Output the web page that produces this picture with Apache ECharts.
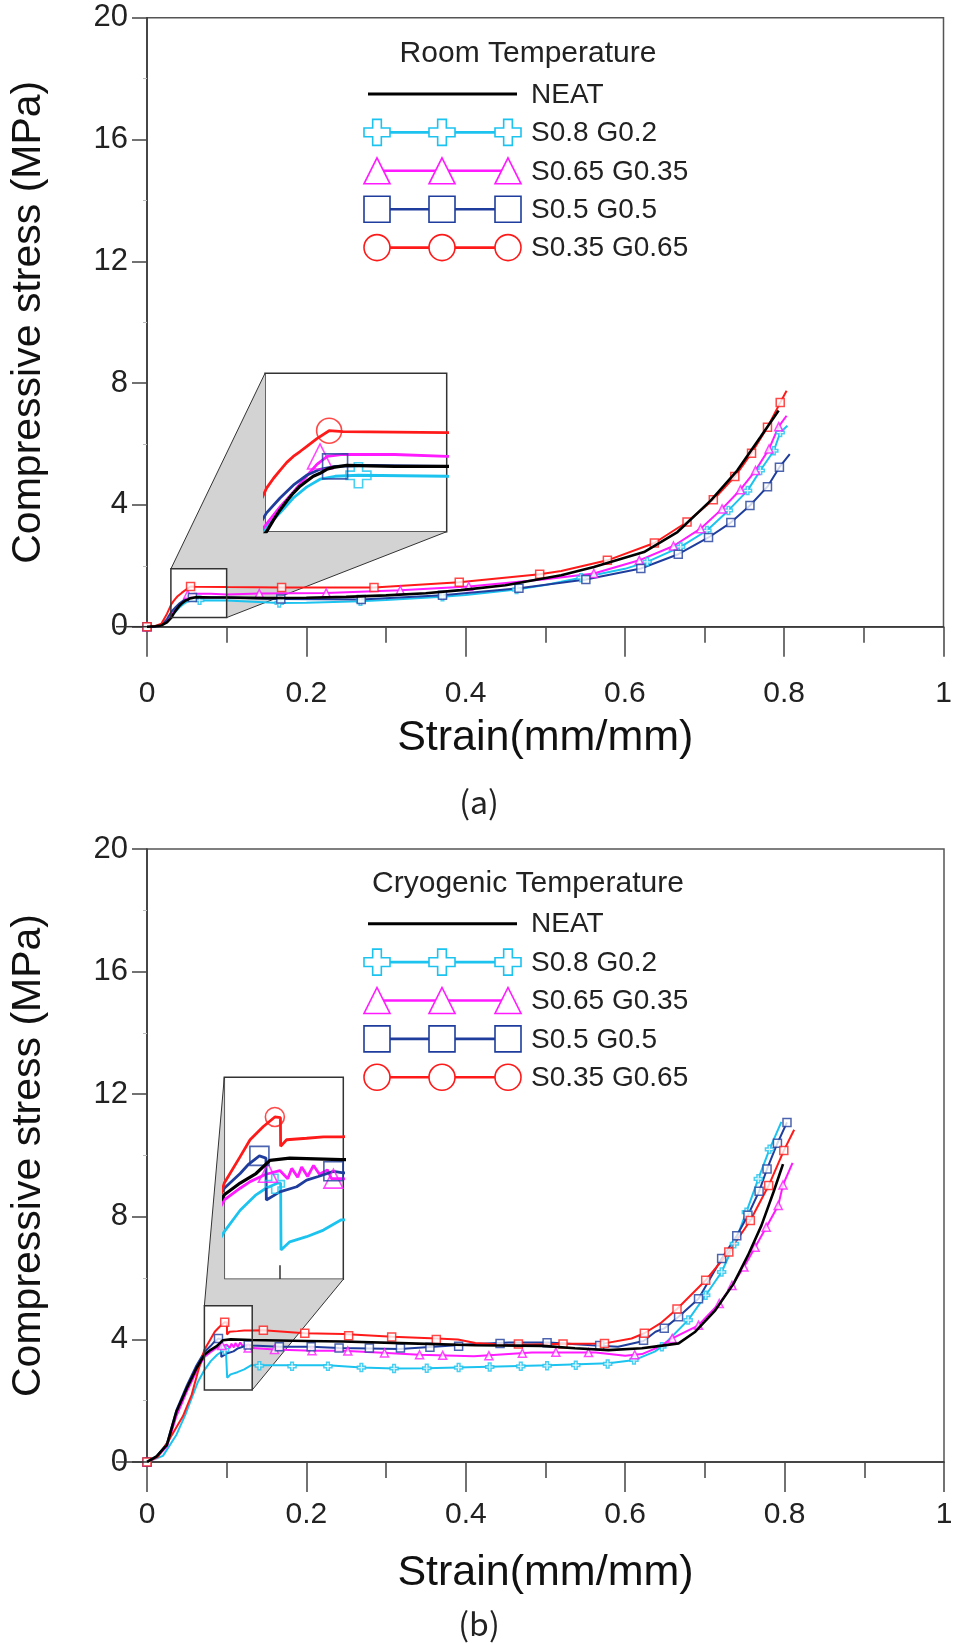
<!DOCTYPE html>
<html>
<head>
<meta charset="utf-8">
<script src="https://cdn.jsdelivr.net/npm/echarts@6/dist/echarts.min.js"></script>
<style>
html, body { margin: 0; padding: 0; background: #fff; }
#main { width: 958px; height: 1643px; }
</style>
</head>
<body>
<div id="main"></div>
<script>
// tick labels
var xTickLabels = ['0', '0.2', '0.4', '0.6', '0.8', '1'];
var yTickLabels = ['0', '4', '8', '12', '16', '20'];
var seriesNames = ['NEAT', 'S0.8 G0.2', 'S0.65 G0.35', 'S0.5 G0.5', 'S0.35 G0.65'];
var panelTitles = ['Room Temperature', 'Cryogenic Temperature'];
var captions = ['(a)', '(b)'];

// zoomed windows (strain, stress)
var roomZoomX = [0.03, 0.1];
var roomZoomY = [0.3, 1.9];
var cryoZoomX = [0.072, 0.132];
var cryoZoomY = [2.35, 5.1];

// ---- room temperature ----
var roomNeat = [[0,0],[0.01,0.01],[0.018,0.04],[0.025,0.14],[0.0306,0.3],[0.0333,0.42],[0.0358,0.52],[0.0384,0.61],[0.0409,0.69],[0.0435,0.76],[0.046,0.81],[0.0486,0.86],[0.0512,0.89],[0.0538,0.93],[0.0563,0.95],[0.0615,0.97],[0.08,0.96],[0.1,0.96],[0.15,0.94],[0.2,0.95],[0.25,0.98],[0.3,1.03],[0.35,1.1],[0.394,1.2],[0.45,1.36],[0.52,1.69],[0.561,1.96],[0.624,2.45],[0.666,3.11],[0.708,4.15],[0.741,5.13],[0.77,6.22],[0.793,7.1]];
var roomS08 = [[0,0],[0.01,0.01],[0.018,0.04],[0.025,0.17],[0.0306,0.35],[0.0358,0.49],[0.0409,0.64],[0.046,0.75],[0.0512,0.83],[0.057,0.86],[0.066,0.87],[0.1,0.86],[0.166,0.78],[0.2,0.79],[0.268,0.84],[0.3,0.88],[0.371,0.98],[0.4,1.04],[0.464,1.22],[0.5,1.37],[0.545,1.61],[0.6,1.9],[0.628,2.13],[0.67,2.62],[0.703,3.16],[0.73,3.82],[0.754,4.47],[0.77,5.13],[0.787,5.78],[0.795,6.38],[0.804,6.6]];
var roomS065 = [[0,0],[0.01,0.01],[0.018,0.04],[0.025,0.18],[0.0306,0.38],[0.0358,0.55],[0.0409,0.7],[0.046,0.86],[0.05,0.98],[0.054,1.06],[0.06,1.08],[0.08,1.08],[0.1,1.06],[0.141,1.09],[0.225,1.11],[0.318,1.2],[0.404,1.32],[0.5,1.56],[0.561,1.75],[0.618,2.18],[0.661,2.65],[0.695,3.22],[0.722,3.87],[0.745,4.5],[0.764,5.13],[0.781,5.84],[0.793,6.57],[0.803,6.93]];
var roomS05 = [[0,0],[0.01,0.01],[0.018,0.05],[0.025,0.25],[0.0306,0.49],[0.0358,0.64],[0.0409,0.77],[0.046,0.87],[0.0512,0.93],[0.057,0.96],[0.07,0.97],[0.1,0.96],[0.168,0.91],[0.269,0.89],[0.371,1.03],[0.467,1.26],[0.52,1.44],[0.551,1.55],[0.62,1.91],[0.667,2.38],[0.705,2.93],[0.733,3.42],[0.757,3.98],[0.779,4.6],[0.794,5.24],[0.807,5.67]];
var roomS035 = [[0,0],[0.01,0.02],[0.018,0.1],[0.025,0.42],[0.0306,0.74],[0.0333,0.84],[0.0358,0.92],[0.0384,1.0],[0.0409,1.06],[0.0435,1.11],[0.046,1.16],[0.05,1.24],[0.0547,1.32],[0.06,1.31],[0.1,1.3],[0.169,1.29],[0.285,1.29],[0.392,1.46],[0.493,1.72],[0.52,1.83],[0.578,2.18],[0.637,2.75],[0.678,3.44],[0.711,4.17],[0.738,4.93],[0.759,5.7],[0.779,6.55],[0.795,7.36],[0.803,7.75]];

var roomS08Marks = [[0,0],[0.066,0.87],[0.166,0.78],[0.268,0.84],[0.371,0.98],[0.464,1.22],[0.545,1.61],[0.628,2.13],[0.67,2.62],[0.703,3.16],[0.73,3.82],[0.754,4.47],[0.77,5.13],[0.787,5.78],[0.795,6.38]];
var roomS065Marks = [[0,0],[0.0512,1.06],[0.141,1.09],[0.225,1.11],[0.318,1.2],[0.404,1.32],[0.561,1.75],[0.618,2.18],[0.661,2.65],[0.695,3.22],[0.722,3.87],[0.745,4.5],[0.764,5.13],[0.781,5.84],[0.793,6.57]];
var roomS05Marks = [[0,0],[0.057,0.96],[0.168,0.91],[0.269,0.89],[0.371,1.03],[0.467,1.26],[0.551,1.55],[0.62,1.91],[0.667,2.38],[0.705,2.93],[0.733,3.42],[0.757,3.98],[0.779,4.6],[0.794,5.24]];
var roomS035Marks = [[0,0],[0.0547,1.32],[0.169,1.29],[0.285,1.29],[0.392,1.46],[0.493,1.72],[0.578,2.18],[0.637,2.75],[0.678,3.44],[0.711,4.17],[0.738,4.93],[0.759,5.7],[0.779,6.55],[0.795,7.36]];

// ---- cryogenic temperature ----
var cryoNeat = [[0,0],[0.012,0.18],[0.025,0.56],[0.037,1.65],[0.05,2.41],[0.062,3.05],[0.072,3.5],[0.08,3.66],[0.088,3.79],[0.095,3.97],[0.105,4.0],[0.131,3.98],[0.2,3.95],[0.246,3.93],[0.329,3.87],[0.412,3.81],[0.496,3.79],[0.537,3.71],[0.579,3.65],[0.621,3.71],[0.644,3.79],[0.667,3.87],[0.688,4.25],[0.713,4.95],[0.736,5.82],[0.754,6.74],[0.771,7.72],[0.786,8.8],[0.798,9.72]];
var cryoS08 = [[0,0],[0.02,0.2],[0.037,0.89],[0.048,1.54],[0.064,2.62],[0.072,3.0],[0.08,3.29],[0.088,3.5],[0.093,3.59],[0.099,3.66],[0.1004,3.66],[0.1006,2.75],[0.105,2.86],[0.1135,2.93],[0.122,3.02],[0.131,3.16],[0.139,3.16],[0.166,3.16],[0.227,3.16],[0.269,3.08],[0.31,3.05],[0.35,3.06],[0.429,3.11],[0.504,3.16],[0.579,3.22],[0.612,3.33],[0.637,3.6],[0.646,3.76],[0.679,4.63],[0.701,5.44],[0.721,6.2],[0.737,7.12],[0.752,8.15],[0.767,9.24],[0.781,10.2],[0.796,11.1]];
var cryoS065 = [[0,0],[0.012,0.15],[0.025,0.5],[0.037,1.5],[0.05,2.3],[0.062,2.95],[0.072,3.43],[0.08,3.59],[0.085,3.68],[0.093,3.78],[0.1,3.83],[0.104,3.72],[0.106,3.86],[0.109,3.74],[0.111,3.88],[0.114,3.75],[0.117,3.9],[0.12,3.78],[0.124,3.84],[0.126,3.72],[0.132,3.72],[0.16,3.67],[0.207,3.63],[0.246,3.63],[0.289,3.57],[0.342,3.5],[0.41,3.45],[0.483,3.57],[0.563,3.57],[0.6,3.47],[0.621,3.52],[0.642,3.75],[0.659,4.03],[0.692,4.46],[0.718,5.17],[0.734,5.76],[0.749,6.36],[0.763,7.01],[0.777,7.66],[0.792,8.37],[0.798,9.04],[0.81,9.76]];
var cryoS05 = [[0,0],[0.012,0.18],[0.025,0.6],[0.037,1.7],[0.05,2.5],[0.062,3.15],[0.072,3.59],[0.08,3.79],[0.084,3.91],[0.0897,4.03],[0.093,4.0],[0.0932,3.43],[0.1,3.54],[0.1085,3.61],[0.1135,3.7],[0.1194,3.75],[0.127,3.82],[0.132,3.8],[0.166,3.76],[0.206,3.76],[0.241,3.72],[0.317,3.69],[0.412,3.85],[0.454,3.9],[0.504,3.9],[0.558,3.81],[0.591,3.76],[0.623,3.95],[0.638,4.25],[0.649,4.36],[0.667,4.74],[0.692,5.33],[0.721,6.64],[0.74,7.38],[0.754,8.05],[0.768,8.83],[0.778,9.56],[0.791,10.4],[0.803,11.08]];
var cryoS035 = [[0,0],[0.014,0.18],[0.029,0.78],[0.045,1.49],[0.056,2.19],[0.064,2.95],[0.072,3.66],[0.08,4.02],[0.085,4.25],[0.0917,4.43],[0.0975,4.56],[0.1003,4.55],[0.1004,4.16],[0.1034,4.25],[0.1135,4.27],[0.122,4.29],[0.131,4.29],[0.146,4.3],[0.198,4.2],[0.246,4.18],[0.308,4.09],[0.364,4.03],[0.39,4.0],[0.412,3.88],[0.454,3.82],[0.529,3.86],[0.574,3.87],[0.608,4.03],[0.624,4.2],[0.644,4.52],[0.665,4.99],[0.701,5.93],[0.73,6.85],[0.757,7.88],[0.78,9.02],[0.799,10.16],[0.812,10.84]];

var cryoS08Marks = [[0,0],[0.0975,3.65],[0.141,3.14],[0.182,3.12],[0.227,3.12],[0.269,3.08],[0.31,3.05],[0.351,3.06],[0.391,3.08],[0.43,3.1],[0.469,3.12],[0.502,3.14],[0.538,3.16],[0.578,3.2],[0.611,3.33],[0.646,3.76],[0.679,4.63],[0.701,5.44],[0.721,6.2],[0.737,7.12],[0.752,8.15],[0.767,9.24],[0.781,10.2]];
var cryoS065Marks = [[0,0],[0.094,3.8],[0.127,3.72],[0.16,3.67],[0.207,3.63],[0.252,3.62],[0.298,3.56],[0.342,3.5],[0.371,3.48],[0.429,3.47],[0.471,3.55],[0.513,3.58],[0.554,3.57],[0.612,3.5],[0.659,4.03],[0.692,4.46],[0.718,5.17],[0.734,5.76],[0.749,6.36],[0.763,7.01],[0.777,7.66],[0.792,8.37],[0.798,9.04]];
var cryoS05Marks = [[0,0],[0.0897,4.03],[0.127,3.82],[0.166,3.76],[0.206,3.76],[0.241,3.72],[0.279,3.72],[0.318,3.72],[0.355,3.74],[0.391,3.78],[0.443,3.87],[0.502,3.89],[0.568,3.8],[0.623,3.97],[0.649,4.36],[0.667,4.74],[0.692,5.33],[0.721,6.64],[0.74,7.38],[0.754,8.05],[0.768,8.83],[0.778,9.56],[0.791,10.4],[0.803,11.08]];
var cryoS035Marks = [[0,0],[0.0975,4.56],[0.146,4.3],[0.198,4.2],[0.253,4.12],[0.307,4.08],[0.363,4.0],[0.466,3.85],[0.522,3.85],[0.574,3.87],[0.624,4.2],[0.665,4.99],[0.701,5.93],[0.73,6.85],[0.757,7.88],[0.78,9.02],[0.799,10.16]];

var colors = ['#000000', '#1cc3ef', '#ff1aff', '#1f3d9c', '#ff1a1a'];
var crossPath = 'path://M-1,-3L1,-3L1,-1L3,-1L3,1L1,1L1,3L-1,3L-1,1L-3,1L-3,-1L-1,-1Z';
var mainSymbols = ['none', crossPath, 'triangle', 'rect', 'rect'];
var insetSymbols = ['none', crossPath, 'triangle', 'rect', 'circle'];
var font = "'Liberation Sans', Arial, sans-serif";

var panels = [
    { lines: [roomNeat, roomS08, roomS065, roomS05, roomS035],
      marks: [[], roomS08Marks, roomS065Marks, roomS05Marks, roomS035Marks],
      zx: roomZoomX, zy: roomZoomY, insetSize: 25, labelMargin: 52,
      legendTop: 94, titleTop: 54 },
    { lines: [cryoNeat, cryoS08, cryoS065, cryoS05, cryoS035],
      marks: [[], cryoS08Marks, cryoS065Marks, cryoS05Marks, cryoS035Marks],
      zx: cryoZoomX, zy: cryoZoomY, insetSize: 19, labelMargin: 38,
      legendTop: 923.7, titleTop: 884 }
];

var chart = echarts.init(document.getElementById('main'));

var grids = [
    { left: 146.5, top: 17.8, width: 797, height: 608.9, show: true, borderColor: '#555', borderWidth: 1.5 },
    { left: 265, top: 373.3, width: 181.7, height: 158.4, show: true, borderColor: '#333', borderWidth: 1.5, backgroundColor: '#fff' },
    { left: 144, top: 849, width: 800, height: 613, show: true, borderColor: '#555', borderWidth: 1.5 },
    { left: 224.3, top: 1077.3, width: 119, height: 202, show: true, borderColor: '#333', borderWidth: 1.5, backgroundColor: '#fff' }
];

var xAxes = [], yAxes = [], series = [];

panels.forEach(function (p, k) {
    var gMain = k * 2, gIn = k * 2 + 1;
    xAxes.push({
        gridIndex: gMain, type: 'value', min: 0, max: 1, interval: 0.2,
        name: 'Strain(mm/mm)', nameLocation: 'middle', nameGap: 90,
        nameTextStyle: { fontSize: 43, color: '#111', fontFamily: font },
        axisLine: { show: true, lineStyle: { color: '#333', width: 1.5 } },
        axisTick: { show: true, length: 30, lineStyle: { color: '#444', width: 1.5 } },
        minorTick: { show: true, splitNumber: 2, length: 16, lineStyle: { color: '#444', width: 1.5 } },
        axisLabel: { margin: p.labelMargin, fontSize: 30, color: '#222', fontFamily: font,
            formatter: function (v) { return xTickLabels[Math.round(v / 0.2)]; } },
        splitLine: { show: false }
    });
    yAxes.push({
        gridIndex: gMain, type: 'value', min: 0, max: 20, interval: 4,
        name: 'Compressive stress (MPa)', nameLocation: 'middle', nameGap: 98,
        nameTextStyle: { fontSize: 41, color: '#111', fontFamily: font },
        axisLine: { show: true, lineStyle: { color: '#333', width: 1.5 } },
        axisTick: { show: true, length: 15, lineStyle: { color: '#444', width: 1.5 } },
        minorTick: { show: true, splitNumber: 2, length: 4, lineStyle: { color: '#bbb', width: 1 } },
        axisLabel: { margin: 19, fontSize: 31, color: '#222', fontFamily: font,
            formatter: function (v) { return yTickLabels[Math.round(v / 4)]; } },
        splitLine: { show: false }
    });
    xAxes.push({
        gridIndex: gIn, type: 'value', min: p.zx[0], max: p.zx[1],
        axisLine: { show: false },
        axisTick: k == 1 ? { show: true, inside: true, length: 14, customValues: [0.1], lineStyle: { color: '#333', width: 1.5 } } : { show: false },
        axisLabel: { show: false }, splitLine: { show: false }
    });
    yAxes.push({
        gridIndex: gIn, type: 'value', min: p.zy[0], max: p.zy[1],
        axisLine: { show: false }, axisTick: { show: false },
        axisLabel: { show: false }, splitLine: { show: false }
    });

    var order = [1, 2, 3, 4, 0];
    order.forEach(function (i) {
        series.push({
            name: seriesNames[i], type: 'line', xAxisIndex: gMain, yAxisIndex: gMain,
            data: p.lines[i], showSymbol: false, clip: true, z: i == 0 ? 4 : 2,
            lineStyle: { color: colors[i], width: i == 0 ? 2.6 : 2 }
        });
        series.push({
            name: seriesNames[i], type: 'line', xAxisIndex: gIn, yAxisIndex: gIn,
            data: p.lines[i], showSymbol: false, clip: true, z: i == 0 ? 4 : 2,
            lineStyle: { color: colors[i], width: i == 0 ? 3.2 : 2.8 }
        });
        if (i > 0) {
            series.push({
                type: 'scatter', xAxisIndex: gMain, yAxisIndex: gMain, data: p.marks[i],
                symbol: mainSymbols[i], symbolSize: 8, z: 3,
                itemStyle: { color: '#fff', borderColor: colors[i], borderWidth: 1.5 }
            });
            series.push({
                type: 'scatter', xAxisIndex: gIn, yAxisIndex: gIn, data: p.marks[i], clip: true,
                symbol: insetSymbols[i], symbolSize: p.insetSize, z: 3,
                itemStyle: { color: 'rgba(255,255,255,0)', borderColor: colors[i], borderWidth: 1.6 }
            });
        }
    });
});

chart.setOption({
    animation: false,
    backgroundColor: '#fff',
    grid: grids,
    xAxis: xAxes,
    yAxis: yAxes,
    series: series
});

// legend marker drawn as graphic
function legendMarker(kind, cx, cy, s, color) {
    var h = s / 2, a = s / 6;
    var style = { fill: '#fff', stroke: color, lineWidth: 1.6 };
    if (kind == 'circle') return { type: 'circle', shape: { cx: cx, cy: cy, r: h }, style: style, z: 20 };
    if (kind == 'rect') return { type: 'rect', shape: { x: cx - h, y: cy - h, width: s, height: s }, style: style, z: 20 };
    if (kind == 'triangle') return { type: 'polygon', shape: { points: [[cx, cy - h], [cx + h, cy + h], [cx - h, cy + h]] }, style: style, z: 20 };
    return { type: 'polygon', shape: { points: [[cx - a, cy - h], [cx + a, cy - h], [cx + a, cy - a], [cx + h, cy - a], [cx + h, cy + a], [cx + a, cy + a], [cx + a, cy + h], [cx - a, cy + h], [cx - a, cy + a], [cx - h, cy + a], [cx - h, cy - a], [cx - a, cy - a]] }, style: style, z: 20 };
}

var legendKinds = ['none', 'cross', 'triangle', 'rect', 'circle'];
var graphics = [];
panels.forEach(function (p, k) {
    graphics.push({ type: 'text', x: 528, y: p.titleTop, z: 20,
        style: { text: panelTitles[k], font: '30px ' + font, fill: '#222', textAlign: 'center', textVerticalAlign: 'middle' } });
    for (var i = 0; i < 5; i++) {
        var y = p.legendTop + i * 38.4;
        if (i == 0) {
            graphics.push({ type: 'line', shape: { x1: 368, y1: y, x2: 517, y2: y }, style: { stroke: colors[0], lineWidth: 3 }, z: 20 });
        } else {
            graphics.push({ type: 'line', shape: { x1: 377, y1: y, x2: 508, y2: y }, style: { stroke: colors[i], lineWidth: 2.6 }, z: 20 });
            [377, 442, 508].forEach(function (mx) {
                graphics.push(legendMarker(legendKinds[i], mx, y, 26, colors[i]));
            });
        }
        graphics.push({ type: 'text', x: 531, y: y + 1, z: 20,
            style: { text: seriesNames[i], font: '28px ' + font, fill: '#222', textAlign: 'left', textVerticalAlign: 'middle' } });
    }
    graphics.push({ type: 'text', x: 479, y: k == 0 ? 802 : 1624, z: 20,
        style: { text: captions[k], font: '32px "Noto Sans CJK KR", sans-serif', fill: '#222', textAlign: 'center', textVerticalAlign: 'middle' } });

    // zoom window and its connecting shade, placed through the axes
    var gm = k * 2, gi = k * 2 + 1;
    function px(g, pt) { return chart.convertToPixel({ xAxisIndex: g, yAxisIndex: g }, pt); }
    var rTL = px(gm, [p.zx[0], p.zy[1]]), rTR = px(gm, [p.zx[1], p.zy[1]]), rBR = px(gm, [p.zx[1], p.zy[0]]);
    var iTL = px(gi, [p.zx[0], p.zy[1]]), iBL = px(gi, [p.zx[0], p.zy[0]]), iBR = px(gi, [p.zx[1], p.zy[0]]);
    graphics.push({ type: 'polygon', shape: { points: [rTL, iTL, iBL, iBR, rBR, rTR] }, style: { fill: '#d3d3d3' }, z: 1 });
    graphics.push({ type: 'polyline', shape: { points: [rTL, iTL] }, style: { stroke: '#333', lineWidth: 1, fill: null }, z: 1 });
    graphics.push({ type: 'polyline', shape: { points: [iBR, rBR] }, style: { stroke: '#333', lineWidth: 1, fill: null }, z: 1 });
    graphics.push({ type: 'rect', shape: { x: rTL[0], y: rTL[1], width: rBR[0] - rTL[0], height: rBR[1] - rTL[1] },
        style: { fill: null, stroke: '#333', lineWidth: 1.5 }, z: 10 });

    // x axis line runs a little past the origin to the left
    var o = px(gm, [0, 0]);
    graphics.push({ type: 'line', shape: { x1: o[0] - 31, y1: o[1], x2: o[0], y2: o[1] }, style: { stroke: '#333', lineWidth: 1.5 }, z: 5 });
});

chart.setOption({ graphic: graphics });
</script>
</body>
</html>
